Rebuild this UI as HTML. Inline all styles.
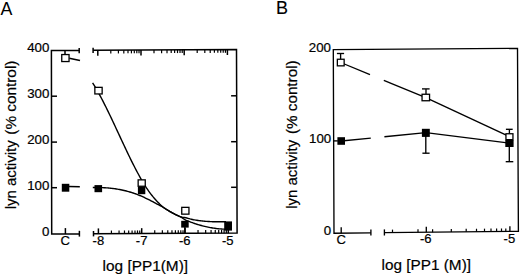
<!DOCTYPE html>
<html><head><meta charset="utf-8"><style>
html,body{margin:0;padding:0;background:#fff;}
svg{display:block;}
text{font-family:"Liberation Sans",sans-serif;fill:#000;}
</style></head><body>
<svg width="520" height="275" viewBox="0 0 520 275" xmlns="http://www.w3.org/2000/svg">
<g stroke="#000" stroke-linecap="butt" fill="none">
<path d="M79.2,50.44 L51.4,50.6 L51.7,234.06 L79.4,233.91" fill="none" stroke-width="1.5" stroke-linejoin="miter"/>
<line x1="79.20" y1="48.00" x2="79.20" y2="53.30" stroke-width="1.5"/>
<path d="M93.1,50.36 L236.5,49.55 L237.1,233.06 L93.5,233.83" fill="none" stroke-width="1.5" stroke-linejoin="miter"/>
<line x1="93.10" y1="47.80" x2="93.10" y2="52.90" stroke-width="1.5"/>
<line x1="79.40" y1="230.80" x2="79.40" y2="236.60" stroke-width="1.5"/>
<line x1="93.50" y1="231.00" x2="93.50" y2="236.40" stroke-width="1.5"/>
<line x1="65.40" y1="233.99" x2="65.40" y2="228.10" stroke-width="1.5"/>
<line x1="98.40" y1="233.81" x2="98.40" y2="228.41" stroke-width="1.5"/>
<line x1="97.80" y1="50.34" x2="97.80" y2="55.74" stroke-width="1.5"/>
<line x1="111.43" y1="233.74" x2="111.43" y2="230.54" stroke-width="1.2"/>
<line x1="110.80" y1="50.26" x2="110.80" y2="53.46" stroke-width="1.2"/>
<line x1="119.06" y1="233.70" x2="119.06" y2="230.50" stroke-width="1.2"/>
<line x1="118.41" y1="50.22" x2="118.41" y2="53.42" stroke-width="1.2"/>
<line x1="124.47" y1="233.67" x2="124.47" y2="230.47" stroke-width="1.2"/>
<line x1="123.81" y1="50.19" x2="123.81" y2="53.39" stroke-width="1.2"/>
<line x1="128.67" y1="233.64" x2="128.67" y2="230.44" stroke-width="1.2"/>
<line x1="128.00" y1="50.17" x2="128.00" y2="53.37" stroke-width="1.2"/>
<line x1="132.09" y1="233.63" x2="132.09" y2="230.43" stroke-width="1.2"/>
<line x1="131.42" y1="50.15" x2="131.42" y2="53.35" stroke-width="1.2"/>
<line x1="134.99" y1="233.61" x2="134.99" y2="230.41" stroke-width="1.2"/>
<line x1="134.31" y1="50.13" x2="134.31" y2="53.33" stroke-width="1.2"/>
<line x1="137.50" y1="233.60" x2="137.50" y2="230.40" stroke-width="1.2"/>
<line x1="136.81" y1="50.12" x2="136.81" y2="53.32" stroke-width="1.2"/>
<line x1="139.72" y1="233.58" x2="139.72" y2="230.38" stroke-width="1.2"/>
<line x1="139.02" y1="50.10" x2="139.02" y2="53.30" stroke-width="1.2"/>
<line x1="141.70" y1="233.57" x2="141.70" y2="228.17" stroke-width="1.5"/>
<line x1="141.00" y1="50.09" x2="141.00" y2="55.49" stroke-width="1.5"/>
<line x1="154.73" y1="233.50" x2="154.73" y2="230.30" stroke-width="1.2"/>
<line x1="154.00" y1="50.02" x2="154.00" y2="53.22" stroke-width="1.2"/>
<line x1="162.36" y1="233.46" x2="162.36" y2="230.26" stroke-width="1.2"/>
<line x1="161.61" y1="49.97" x2="161.61" y2="53.17" stroke-width="1.2"/>
<line x1="167.77" y1="233.43" x2="167.77" y2="230.23" stroke-width="1.2"/>
<line x1="167.01" y1="49.94" x2="167.01" y2="53.14" stroke-width="1.2"/>
<line x1="171.97" y1="233.41" x2="171.97" y2="230.21" stroke-width="1.2"/>
<line x1="171.20" y1="49.92" x2="171.20" y2="53.12" stroke-width="1.2"/>
<line x1="175.39" y1="233.39" x2="175.39" y2="230.19" stroke-width="1.2"/>
<line x1="174.62" y1="49.90" x2="174.62" y2="53.10" stroke-width="1.2"/>
<line x1="178.29" y1="233.38" x2="178.29" y2="230.18" stroke-width="1.2"/>
<line x1="177.51" y1="49.88" x2="177.51" y2="53.08" stroke-width="1.2"/>
<line x1="180.80" y1="233.36" x2="180.80" y2="230.16" stroke-width="1.2"/>
<line x1="180.01" y1="49.87" x2="180.01" y2="53.07" stroke-width="1.2"/>
<line x1="183.02" y1="233.35" x2="183.02" y2="230.15" stroke-width="1.2"/>
<line x1="182.22" y1="49.86" x2="182.22" y2="53.06" stroke-width="1.2"/>
<line x1="185.00" y1="233.34" x2="185.00" y2="227.94" stroke-width="1.5"/>
<line x1="184.20" y1="49.85" x2="184.20" y2="55.25" stroke-width="1.5"/>
<line x1="198.03" y1="233.27" x2="198.03" y2="230.07" stroke-width="1.2"/>
<line x1="197.20" y1="49.77" x2="197.20" y2="52.97" stroke-width="1.2"/>
<line x1="205.66" y1="233.23" x2="205.66" y2="230.03" stroke-width="1.2"/>
<line x1="204.81" y1="49.73" x2="204.81" y2="52.93" stroke-width="1.2"/>
<line x1="211.07" y1="233.20" x2="211.07" y2="230.00" stroke-width="1.2"/>
<line x1="210.21" y1="49.70" x2="210.21" y2="52.90" stroke-width="1.2"/>
<line x1="215.27" y1="233.18" x2="215.27" y2="229.98" stroke-width="1.2"/>
<line x1="214.40" y1="49.67" x2="214.40" y2="52.87" stroke-width="1.2"/>
<line x1="218.69" y1="233.16" x2="218.69" y2="229.96" stroke-width="1.2"/>
<line x1="217.82" y1="49.66" x2="217.82" y2="52.86" stroke-width="1.2"/>
<line x1="221.59" y1="233.14" x2="221.59" y2="229.94" stroke-width="1.2"/>
<line x1="220.71" y1="49.64" x2="220.71" y2="52.84" stroke-width="1.2"/>
<line x1="224.10" y1="233.13" x2="224.10" y2="229.93" stroke-width="1.2"/>
<line x1="223.21" y1="49.62" x2="223.21" y2="52.82" stroke-width="1.2"/>
<line x1="226.32" y1="233.12" x2="226.32" y2="229.92" stroke-width="1.2"/>
<line x1="225.42" y1="49.61" x2="225.42" y2="52.81" stroke-width="1.2"/>
<line x1="228.30" y1="233.11" x2="228.30" y2="227.71" stroke-width="1.5"/>
<line x1="227.40" y1="49.60" x2="227.40" y2="55.00" stroke-width="1.5"/>
<line x1="51.50" y1="96.20" x2="57.00" y2="96.20" stroke-width="1.5"/>
<line x1="51.50" y1="142.10" x2="57.00" y2="142.10" stroke-width="1.5"/>
<line x1="51.50" y1="187.70" x2="57.00" y2="187.70" stroke-width="1.5"/>
<line x1="231.10" y1="95.80" x2="236.70" y2="95.80" stroke-width="1.5"/>
<line x1="231.10" y1="141.70" x2="236.70" y2="141.70" stroke-width="1.5"/>
<line x1="231.10" y1="187.30" x2="236.70" y2="187.30" stroke-width="1.5"/>
<text stroke="#000" stroke-width="0.2" transform="translate(49.40 52.30) scale(1.0900 1)" font-size="12.2" text-anchor="end" >400</text>
<text stroke="#000" stroke-width="0.2" transform="translate(49.40 98.30) scale(1.0900 1)" font-size="12.2" text-anchor="end" >300</text>
<text stroke="#000" stroke-width="0.2" transform="translate(49.40 143.60) scale(1.0900 1)" font-size="12.2" text-anchor="end" >200</text>
<text stroke="#000" stroke-width="0.2" transform="translate(49.40 189.90) scale(1.0900 1)" font-size="12.2" text-anchor="end" >100</text>
<text stroke="#000" stroke-width="0.2" transform="translate(49.40 236.10) scale(1.0900 1)" font-size="12.2" text-anchor="end" >0</text>
<text stroke="#000" stroke-width="0.2" transform="translate(65.20 244.80) scale(1.0700 1)" font-size="12.2" text-anchor="middle" >C</text>
<text stroke="#000" stroke-width="0.2" transform="translate(98.40 244.80) scale(1.0700 1)" font-size="12.2" text-anchor="middle" >-8</text>
<text stroke="#000" stroke-width="0.2" transform="translate(141.60 244.80) scale(1.0700 1)" font-size="12.2" text-anchor="middle" >-7</text>
<text stroke="#000" stroke-width="0.2" transform="translate(184.70 244.80) scale(1.0700 1)" font-size="12.2" text-anchor="middle" >-6</text>
<text stroke="#000" stroke-width="0.2" transform="translate(227.70 244.80) scale(1.0700 1)" font-size="12.2" text-anchor="middle" >-5</text>
<text stroke="none" transform="translate(0.50 14.80) scale(0.9900 1)" font-size="18" text-anchor="start" >A</text>
<text stroke="#000" stroke-width="0.2" transform="translate(15.80 209.30) rotate(-90) scale(0.9960 1)" font-size="15" text-anchor="start" >lyn activity</text>
<text stroke="#000" stroke-width="0.2" transform="translate(15.80 134.70) rotate(-90) scale(1.0230 1)" font-size="15" text-anchor="start" >(% control)</text>
<text stroke="#000" stroke-width="0.2" transform="translate(102.60 270.50) scale(1.0260 1)" font-size="15" text-anchor="start" >log [PP1(M)]</text>
<line x1="69.30" y1="58.20" x2="80.00" y2="60.50" stroke-width="1.5"/>
<line x1="65.00" y1="50.52" x2="65.00" y2="55.00" stroke-width="1.5"/>
<line x1="69.00" y1="186.60" x2="79.80" y2="186.70" stroke-width="1.5"/>
<rect x="61.75" y="54.55" width="7.30" height="7.00" fill="#fff" stroke-width="1.3"/>
<path d="M92.60,82.81 L93.72,84.60 L94.84,86.45 L95.96,88.35 L97.08,90.30 L98.21,92.29 L99.33,94.33 L100.45,96.40 L101.57,98.52 L102.69,100.67 L103.81,102.85 L104.93,105.07 L106.05,107.31 L107.17,109.59 L108.29,111.88 L109.42,114.20 L110.54,116.54 L111.66,118.89 L112.78,121.26 L113.90,123.65 L115.02,126.04 L116.14,128.44 L117.26,130.85 L118.38,133.26 L119.50,135.67 L120.63,138.08 L121.75,140.48 L122.87,142.88 L123.99,145.28 L125.11,147.66 L126.23,150.03 L127.35,152.38 L128.47,154.71 L129.59,157.03 L130.71,159.32 L131.84,161.59 L132.96,163.83 L134.08,166.04 L135.20,168.22 L136.32,170.37 L137.44,172.47 L138.56,174.54 L139.68,176.57 L140.80,178.56 L141.92,180.50 L143.05,182.39 L144.17,184.23 L145.29,186.02 L146.41,187.76 L147.53,189.43 L148.65,191.05 L149.77,192.60 L150.89,194.10 L152.01,195.54 L153.13,196.92 L154.26,198.25 L155.38,199.52 L156.50,200.75 L157.62,201.92 L158.74,203.07 L159.86,204.23 L160.98,205.33 L162.10,206.33 L163.22,207.23 L164.34,208.03 L165.47,208.77 L166.59,209.49 L167.71,210.19 L168.83,210.87 L169.95,211.53 L171.07,212.17 L172.19,212.79 L173.31,213.40 L174.43,213.98 L175.55,214.55 L176.68,215.10 L177.80,215.63 L178.92,216.14 L180.04,216.64 L181.16,217.21 L182.28,217.92 L183.40,218.70 L184.52,219.45 L185.64,220.08 L186.76,220.55 L187.89,221.01 L189.01,221.45 L190.13,221.87 L191.25,222.29 L192.37,222.70 L193.49,223.09 L194.61,223.47 L195.73,223.85 L196.85,224.21 L197.97,224.55 L199.10,224.89 L200.22,225.21 L201.34,225.52 L202.46,225.82 L203.58,226.11 L204.70,226.39 L205.82,226.65 L206.94,226.90 L208.06,227.14 L209.18,227.37 L210.31,227.58 L211.43,227.78 L212.55,227.97 L213.67,228.14 L214.79,228.31 L215.91,228.46 L217.03,228.59 L218.15,228.72 L219.27,228.83 L220.39,228.92 L221.52,229.01 L222.64,229.08 L223.76,229.14 L224.88,229.18 L226.00,229.21" fill="none" stroke-width="1.4" stroke-linejoin="miter"/>
<path d="M92.80,187.47 L93.92,187.46 L95.04,187.45 L96.16,187.46 L97.28,187.47 L98.40,187.48 L99.52,187.51 L100.64,187.54 L101.75,187.58 L102.87,187.63 L103.99,187.69 L105.11,187.76 L106.23,187.84 L107.35,187.92 L108.47,188.02 L109.59,188.12 L110.71,188.24 L111.83,188.37 L112.95,188.50 L114.07,188.65 L115.19,188.81 L116.31,188.98 L117.43,189.16 L118.54,189.35 L119.66,189.55 L120.78,189.77 L121.90,190.00 L123.02,190.24 L124.14,190.49 L125.26,190.76 L126.38,191.04 L127.50,191.33 L128.62,191.64 L129.74,191.96 L130.86,192.29 L131.98,192.64 L133.10,193.01 L134.22,193.38 L135.33,193.78 L136.45,194.19 L137.57,194.61 L138.69,195.05 L139.81,195.50 L140.93,195.98 L142.05,196.46 L143.17,196.96 L144.29,197.48 L145.41,198.01 L146.53,198.55 L147.65,199.10 L148.77,199.66 L149.89,200.23 L151.01,200.81 L152.12,201.39 L153.24,201.99 L154.36,202.58 L155.48,203.19 L156.60,203.79 L157.72,204.40 L158.84,204.99 L159.96,205.53 L161.08,206.08 L162.20,206.69 L163.32,207.37 L164.44,208.09 L165.56,208.83 L166.68,209.55 L167.79,210.24 L168.91,210.92 L170.03,211.58 L171.15,212.22 L172.27,212.84 L173.39,213.44 L174.51,214.02 L175.63,214.59 L176.75,215.13 L177.87,215.66 L178.99,216.18 L180.11,216.67 L181.23,217.05 L182.35,217.26 L183.47,217.37 L184.58,217.49 L185.70,217.70 L186.82,218.03 L187.94,218.35 L189.06,218.65 L190.18,218.94 L191.30,219.20 L192.42,219.45 L193.54,219.69 L194.66,219.90 L195.78,220.11 L196.90,220.29 L198.02,220.47 L199.14,220.63 L200.26,220.77 L201.37,220.91 L202.49,221.03 L203.61,221.14 L204.73,221.24 L205.85,221.33 L206.97,221.41 L208.09,221.48 L209.21,221.55 L210.33,221.60 L211.45,221.65 L212.57,221.69 L213.69,221.72 L214.81,221.75 L215.93,221.77 L217.05,221.78 L218.16,221.79 L219.28,221.80 L220.40,221.81 L221.52,221.81 L222.64,221.81 L223.76,221.80 L224.88,221.80 L226.00,221.80" fill="none" stroke-width="1.4" stroke-linejoin="miter"/>
<rect x="94.85" y="87.35" width="7.30" height="6.60" fill="#fff" stroke-width="1.3"/>
<rect x="138.15" y="179.85" width="7.10" height="6.40" fill="#fff" stroke-width="1.3"/>
<rect x="181.75" y="207.35" width="7.20" height="6.80" fill="#fff" stroke-width="1.3"/>
<rect x="61.80" y="183.80" width="7.50" height="7.90" fill="#000" stroke="none"/>
<rect x="94.50" y="185.10" width="7.60" height="7.10" fill="#000" stroke="none"/>
<rect x="137.90" y="186.60" width="7.40" height="7.60" fill="#000" stroke="none"/>
<rect x="181.20" y="220.80" width="7.50" height="6.80" fill="#000" stroke="none"/>
<line x1="184.90" y1="227.00" x2="184.90" y2="233.30" stroke-width="1.5"/>
<rect x="224.20" y="221.40" width="7.80" height="9.20" fill="#000" stroke="none"/>
<path d="M370.9,232.84 L334.0,233.22 L333.3,49.6 L517.5,48.40 L518.4,231.30 L384.4,232.70" fill="none" stroke-width="1.35" stroke-linejoin="miter"/>
<line x1="370.90" y1="229.60" x2="370.90" y2="235.40" stroke-width="1.35"/>
<line x1="384.40" y1="229.40" x2="384.40" y2="235.50" stroke-width="1.35"/>
<line x1="341.20" y1="233.15" x2="341.20" y2="227.20" stroke-width="1.35"/>
<line x1="426.30" y1="232.26" x2="426.30" y2="226.70" stroke-width="1.35"/>
<line x1="509.90" y1="231.39" x2="509.90" y2="226.30" stroke-width="1.35"/>
<line x1="392.50" y1="232.61" x2="392.50" y2="229.61" stroke-width="1.2"/>
<line x1="418.00" y1="232.35" x2="418.00" y2="229.35" stroke-width="1.2"/>
<line x1="432.60" y1="232.20" x2="432.60" y2="229.20" stroke-width="1.2"/>
<line x1="451.30" y1="232.00" x2="451.30" y2="229.00" stroke-width="1.2"/>
<line x1="466.20" y1="231.85" x2="466.20" y2="228.85" stroke-width="1.2"/>
<line x1="476.50" y1="231.74" x2="476.50" y2="228.74" stroke-width="1.2"/>
<line x1="484.50" y1="231.66" x2="484.50" y2="228.66" stroke-width="1.2"/>
<line x1="491.00" y1="231.59" x2="491.00" y2="228.59" stroke-width="1.2"/>
<line x1="496.60" y1="231.53" x2="496.60" y2="228.53" stroke-width="1.2"/>
<line x1="501.50" y1="231.48" x2="501.50" y2="228.48" stroke-width="1.2"/>
<line x1="505.80" y1="231.44" x2="505.80" y2="228.44" stroke-width="1.2"/>
<line x1="333.60" y1="140.90" x2="337.80" y2="140.90" stroke-width="1.35"/>
<text stroke="#000" stroke-width="0.2" transform="translate(331.00 51.70) scale(1.0900 1)" font-size="12.2" text-anchor="end" >200</text>
<text stroke="#000" stroke-width="0.2" transform="translate(331.20 142.60) scale(1.0900 1)" font-size="12.2" text-anchor="end" >100</text>
<text stroke="#000" stroke-width="0.2" transform="translate(331.20 234.70) scale(1.0900 1)" font-size="12.2" text-anchor="end" >0</text>
<text stroke="#000" stroke-width="0.2" transform="translate(341.30 243.70) scale(1.0700 1)" font-size="12.2" text-anchor="middle" >C</text>
<text stroke="#000" stroke-width="0.2" transform="translate(425.80 242.80) scale(1.0700 1)" font-size="12.2" text-anchor="middle" >-6</text>
<text stroke="#000" stroke-width="0.2" transform="translate(509.40 242.80) scale(1.0700 1)" font-size="12.2" text-anchor="middle" >-5</text>
<text stroke="#000" stroke-width="0.1" transform="translate(276.10 13.90) scale(0.9800 1)" font-size="18.4" text-anchor="start" >B</text>
<text stroke="#000" stroke-width="0.2" transform="translate(297.40 208.70) rotate(-90) scale(0.9960 1)" font-size="15" text-anchor="start" >lyn activity</text>
<text stroke="#000" stroke-width="0.2" transform="translate(297.40 134.00) rotate(-90) scale(1.0150 1)" font-size="15" text-anchor="start" >(% control)</text>
<text stroke="#000" stroke-width="0.2" transform="translate(381.60 269.50) scale(1.0220 1)" font-size="15" text-anchor="start" >log [PP1 (M)]</text>
<line x1="340.70" y1="62.50" x2="370.00" y2="74.58" stroke-width="1.35"/>
<line x1="383.80" y1="80.28" x2="425.80" y2="97.60" stroke-width="1.35"/>
<line x1="425.80" y1="97.60" x2="509.50" y2="136.70" stroke-width="1.35"/>
<line x1="341.30" y1="141.00" x2="370.80" y2="138.11" stroke-width="1.35"/>
<line x1="384.40" y1="136.77" x2="425.90" y2="132.70" stroke-width="1.35"/>
<line x1="425.90" y1="132.70" x2="509.50" y2="143.20" stroke-width="1.35"/>
<line x1="340.60" y1="53.50" x2="340.60" y2="59.00" stroke-width="1.35"/>
<line x1="336.90" y1="53.50" x2="344.10" y2="53.50" stroke-width="1.35"/>
<line x1="426.00" y1="88.90" x2="426.00" y2="94.00" stroke-width="1.35"/>
<line x1="422.00" y1="88.90" x2="429.60" y2="88.90" stroke-width="1.35"/>
<line x1="509.40" y1="129.30" x2="509.40" y2="134.00" stroke-width="1.35"/>
<line x1="505.90" y1="129.30" x2="512.70" y2="129.30" stroke-width="1.35"/>
<line x1="425.80" y1="136.00" x2="425.80" y2="153.20" stroke-width="1.35"/>
<line x1="422.40" y1="153.20" x2="429.60" y2="153.20" stroke-width="1.35"/>
<line x1="509.30" y1="146.00" x2="509.30" y2="161.70" stroke-width="1.35"/>
<line x1="505.70" y1="161.70" x2="513.30" y2="161.70" stroke-width="1.35"/>
<rect x="337.35" y="59.25" width="6.80" height="6.60" fill="#fff" stroke-width="1.3"/>
<rect x="422.05" y="94.25" width="7.50" height="6.50" fill="#fff" stroke-width="1.3"/>
<rect x="505.95" y="133.75" width="7.00" height="5.90" fill="#fff" stroke-width="1.3"/>
<rect x="337.40" y="137.20" width="7.60" height="7.60" fill="#000" stroke="none"/>
<rect x="421.90" y="128.80" width="7.90" height="8.10" fill="#000" stroke="none"/>
<rect x="505.30" y="140.00" width="8.30" height="7.00" fill="#000" stroke="none"/>
</g>
</svg>
</body></html>
